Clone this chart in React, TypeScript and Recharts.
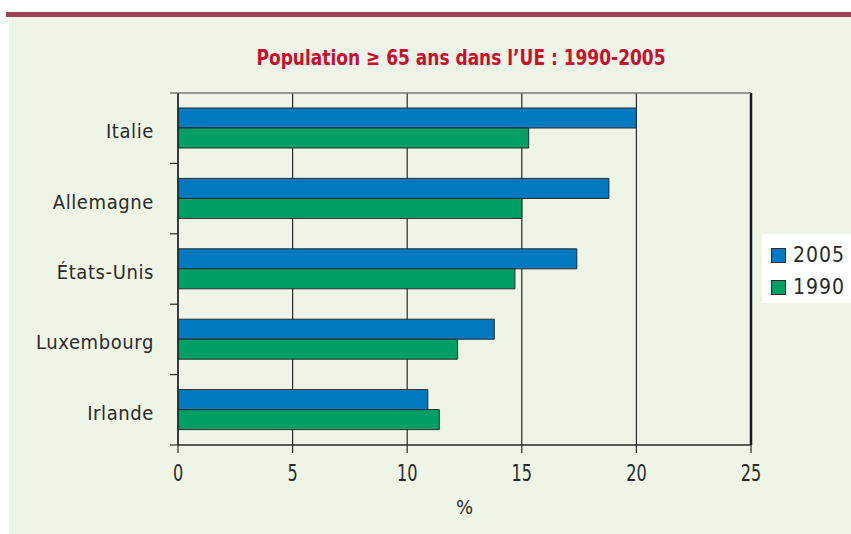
import React from "react";
import {
  BarChart,
  Bar,
  XAxis,
  YAxis,
  CartesianGrid,
  ReferenceLine,
} from "recharts";

const countries = ["Italie", "Allemagne", "États-Unis", "Luxembourg", "Irlande"];
const values2005 = [20.0, 18.8, 17.4, 13.8, 10.9];
const values1990 = [15.3, 15.0, 14.7, 12.2, 11.4];
const xTicks = [0, 5, 10, 15, 20, 25];

const data = countries.map((name, i) => ({
  name,
  y2005: values2005[i],
  y1990: values1990[i],
}));

const FONT = "'DejaVu Sans Condensed', 'DejaVu Sans', sans-serif";
const BLUE = "#0079c1";
const GREEN = "#00a064";
const INK = "#2a2a2a";

// category label in the middle, tick mark on the band boundaries
const CountryTick = (props: any) => {
  const { x, y, payload, index, height, visibleTicksCount } = props;
  const half = payload?.offset ?? height / visibleTicksCount / 2;
  return (
    <g>
      <text
        x={x - 24}
        y={y + 3}
        textAnchor="end"
        dominantBaseline="central"
        fill={INK}
        fontFamily={FONT}
        fontStretch="condensed"
        fontSize={20}
        letterSpacing={0.6}
      >
        {payload.value}
      </text>
      <line x1={x - 8} x2={x} y1={y + half} y2={y + half} stroke={INK} strokeWidth={1.2} />
      {index === 0 && (
        <line x1={x - 8} x2={x} y1={y - half} y2={y - half} stroke="#777" strokeWidth={1.5} />
      )}
    </g>
  );
};

// tall, narrow digits like the original's condensed face
const NumberTick = (props: any) => {
  const { x, y, payload } = props;
  return (
    <text
      transform={`translate(${x},${y}) scale(0.78,1)`}
      textAnchor="middle"
      dominantBaseline="hanging"
      fill={INK}
      fontFamily={FONT}
      fontStretch="condensed"
      fontSize={23}
    >
      {payload.value}
    </text>
  );
};

export default function App() {
  return (
    <div
      style={{
        position: "absolute",
        left: 0,
        top: 0,
        width: 851,
        height: 534,
        background: "#fff",
        overflow: "hidden",
      }}
    >
      <div style={{ position: "absolute", left: 6, top: 12, width: 845, height: 5, background: "#9b4350" }} />
      <div style={{ position: "absolute", left: 9, top: 17, width: 842, height: 517, background: "#eef4e6" }} />

      <div
        style={{
          position: "absolute",
          left: 0,
          width: 922,
          top: 45,
          textAlign: "center",
          fontFamily: FONT,
          fontStretch: "condensed",
          fontWeight: "bold",
          fontSize: 22,
          color: "#c8102e",
          transform: "scaleX(0.86)",
          transformOrigin: "461px 0",
        }}
      >
        Population ≥ 65 ans dans l’UE : 1990-2005
      </div>

      <div style={{ position: "absolute", left: 0, top: 0 }}>
        <BarChart
          width={851}
          height={534}
          data={data}
          layout="vertical"
          margin={{ top: 92, right: 100, bottom: 0, left: 0 }}
          barGap={0}
          barSize={20}
        >
          <CartesianGrid horizontal={false} vertical stroke={INK} strokeWidth={1.2} />
          <XAxis
            type="number"
            domain={[0, 25]}
            ticks={xTicks}
            interval={0}
            height={89}
            tickSize={8}
            tickMargin={11}
            axisLine={{ stroke: INK, strokeWidth: 1.5 }}
            tickLine={{ stroke: INK, strokeWidth: 1.2 }}
            tick={<NumberTick />}
            label={{
              value: "%",
              position: "insideBottom",
              offset: 20,
              fill: INK,
              fontFamily: FONT,
              fontSize: 20,
            }}
          />
          <XAxis
            xAxisId="top"
            orientation="top"
            type="number"
            domain={[0, 25]}
            height={1}
            tick={false}
            tickLine={false}
            axisLine={{ stroke: "#777", strokeWidth: 1.5 }}
          />
          <YAxis
            type="category"
            dataKey="name"
            width={178}
            tickSize={0}
            tickMargin={0}
            tickLine={false}
            axisLine={{ stroke: INK, strokeWidth: 1.5 }}
            tick={<CountryTick />}
            interval={0}
          />
          <ReferenceLine x={25} stroke="#1a1a1a" strokeWidth={2.5} />
          <Bar dataKey="y2005" name="2005" fill={BLUE} stroke={INK} strokeWidth={1} isAnimationActive={false} />
          <Bar dataKey="y1990" name="1990" fill={GREEN} stroke={INK} strokeWidth={1} isAnimationActive={false} />
        </BarChart>
      </div>

      <div
        style={{
          position: "absolute",
          left: 762,
          top: 234,
          width: 89,
          height: 69,
          background: "#fff",
          fontFamily: FONT,
          fontStretch: "condensed",
          fontSize: 21,
          color: INK,
        }}
      >
        {[
          { label: "2005", color: BLUE, top: 11 },
          { label: "1990", color: GREEN, top: 43 },
        ].map((item) => (
          <div key={item.label} style={{ position: "absolute", left: 9, top: item.top, height: 20, display: "flex", alignItems: "center" }}>
            <span
              style={{
                display: "inline-block",
                width: 13,
                height: 13,
                background: item.color,
                border: `1px solid ${INK}`,
                marginRight: 7,
              }}
            />
            <span style={{ letterSpacing: 1 }}>{item.label}</span>
          </div>
        ))}
      </div>
    </div>
  );
}
